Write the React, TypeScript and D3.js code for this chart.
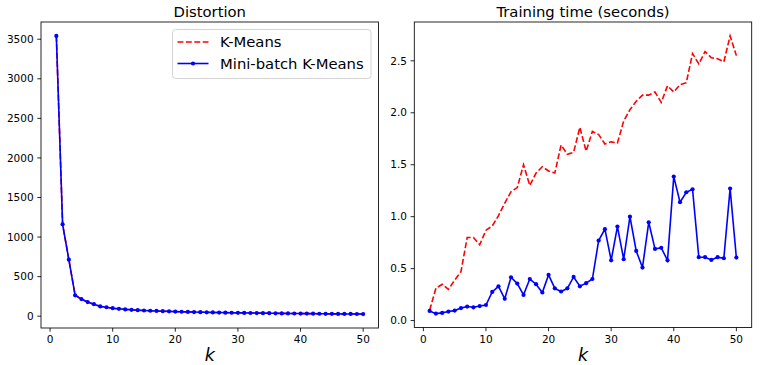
import React from "react";
import * as d3 from "d3";

// k values 1..50
const ks = d3.range(1, 51);

// inertia (distortion)
const kmeansInertia = [
  3542, 1161, 714, 264, 215, 177, 151, 123, 112, 100, 92, 85, 80, 75.5, 71.5, 68.5, 65.5, 62.5,
  60.5, 57.5, 55.5, 53.5, 51.5, 50, 48.5, 47, 45.5, 44.5, 43, 42, 41, 40, 39, 38, 37, 36, 35,
  34.3, 33.5, 32.7, 32, 31.3, 30.5, 29.9, 29.3, 28.7, 28.1, 27.5, 27, 26.5,
];
const minibatchInertia = [
  3542, 1161, 714, 264, 216, 178, 152, 124, 113, 101, 93, 86, 81, 76, 72, 69, 66, 63, 61, 58,
  56, 54, 52, 50.5, 49, 47.5, 46, 45, 43.5, 42.5, 41.5, 40.5, 39.5, 38.5, 37.5, 36.5, 35.5,
  34.8, 34, 33.2, 32.5, 31.8, 31, 30.4, 29.8, 29.2, 28.6, 28, 27.5, 27,
];

// training time (seconds)
const kmeansTimes = [
  0.1, 0.31, 0.35, 0.3, 0.39, 0.47, 0.8, 0.8, 0.73, 0.87, 0.91, 1.01, 1.13, 1.24, 1.28, 1.5,
  1.3, 1.42, 1.48, 1.44, 1.42, 1.69, 1.6, 1.62, 1.86, 1.63, 1.82, 1.79, 1.7, 1.72, 1.71, 1.92,
  2.03, 2.11, 2.17, 2.17, 2.2, 2.1, 2.26, 2.2, 2.27, 2.29, 2.57, 2.47, 2.59, 2.53, 2.52, 2.49,
  2.74, 2.55,
];
const minibatchTimes = [
  0.093, 0.067, 0.074, 0.087, 0.096, 0.12, 0.135, 0.128, 0.14, 0.15, 0.276, 0.33, 0.21, 0.417,
  0.356, 0.247, 0.4, 0.35, 0.27, 0.44, 0.31, 0.28, 0.31, 0.42, 0.33, 0.36, 0.4, 0.77, 0.88,
  0.58, 0.905, 0.59, 1.0, 0.67, 0.51, 0.946, 0.69, 0.7, 0.58, 1.386, 1.14, 1.235, 1.264, 0.61,
  0.61, 0.584, 0.61, 0.6, 1.27, 0.606,
];

const kTicks = [0, 10, 20, 30, 40, 50];
const inertiaTicks = [0, 500, 1000, 1500, 2000, 2500, 3000, 3500];
const timeTicks = [0, 0.5, 1.0, 1.5, 2.0, 2.5];

const seriesNames = ["K-Means", "Mini-batch K-Means"];

const FONT = "DejaVu Sans, sans-serif";
const RED = "#ff0000";
const BLUE = "#0000ff";

// matplotlib-like 5% margins
const padExtent = (vals: number[]) => {
  const [lo, hi] = d3.extent(vals) as [number, number];
  const m = (hi - lo) * 0.05;
  return [lo - m, hi + m];
};

interface PanelProps {
  box: { x0: number; x1: number; y0: number; y1: number };
  title: string;
  kmeans: number[];
  minibatch: number[];
  yTicks: number[];
  yFmt: (v: number) => string;
  legend?: boolean;
}

const Panel: React.FC<PanelProps> = ({ box, title, kmeans, minibatch, yTicks, yFmt, legend }) => {
  const x = d3.scaleLinear().domain(padExtent(ks)).range([box.x0, box.x1]);
  const y = d3
    .scaleLinear()
    .domain(padExtent([...kmeans, ...minibatch]))
    .range([box.y1, box.y0]);

  const line = d3
    .line<number>()
    .x((_, i) => x(ks[i]))
    .y((d) => y(d));

  const cx = (box.x0 + box.x1) / 2;

  return (
    <g>
      <text x={cx} y={17} textAnchor="middle" fontSize={14.8} fontFamily={FONT} fill="#000">
        {title}
      </text>

      <path d={line(kmeans)!} fill="none" stroke={RED} strokeWidth={1.6} strokeDasharray="5.9,2.5" />
      <path d={line(minibatch)!} fill="none" stroke={BLUE} strokeWidth={1.6} />
      {minibatch.map((v, i) => (
        <circle key={i} cx={x(ks[i])} cy={y(v)} r={2.1} fill={BLUE} />
      ))}

      <rect
        x={box.x0}
        y={box.y0}
        width={box.x1 - box.x0}
        height={box.y1 - box.y0}
        fill="none"
        stroke="#000"
        strokeWidth={0.85}
      />

      {kTicks.map((t) => (
        <g key={t} transform={`translate(${x(t)},${box.y1})`}>
          <line y2={3.7} stroke="#000" strokeWidth={0.85} />
          <text y={15} textAnchor="middle" fontSize={10.5} fontFamily={FONT} fill="#000">
            {t}
          </text>
        </g>
      ))}
      {yTicks.map((t) => (
        <g key={t} transform={`translate(${box.x0},${y(t)})`}>
          <line x2={-3.7} stroke="#000" strokeWidth={0.85} />
          <text x={-7.4} dy="0.35em" textAnchor="end" fontSize={10.5} fontFamily={FONT} fill="#000">
            {yFmt(t)}
          </text>
        </g>
      ))}

      <text
        x={cx}
        y={361}
        textAnchor="middle"
        fontSize={17.5}
        fontStyle="italic"
        fontFamily={FONT}
        fill="#000"
      >
        k
      </text>

      {legend && (
        <g>
          <rect
            x={172.5}
            y={29.5}
            width={198.5}
            height={49}
            rx={3}
            fill="#fff"
            fillOpacity={0.8}
            stroke="#cccccc"
            strokeWidth={0.85}
          />
          <line x1={177.5} x2={208.5} y1={42} y2={42} stroke={RED} strokeWidth={1.6} strokeDasharray="5.9,2.5" />
          <text x={220} y={42} dy="0.35em" fontSize={14.8} fontFamily={FONT} fill="#000">
            {seriesNames[0]}
          </text>
          <line x1={177.5} x2={208.5} y1={63.5} y2={63.5} stroke={BLUE} strokeWidth={1.6} />
          <circle cx={193} cy={63.5} r={2.1} fill={BLUE} />
          <text x={220} y={63.5} dy="0.35em" fontSize={14.8} fontFamily={FONT} fill="#000">
            {seriesNames[1]}
          </text>
        </g>
      )}
    </g>
  );
};

export default function App() {
  return (
    <svg
      width={760}
      height={365}
      style={{ position: "absolute", left: 0, top: 0, background: "#fff" }}
    >
      <Panel
        box={{ x0: 41, x1: 378.5, y0: 22, y1: 328 }}
        title="Distortion"
        kmeans={kmeansInertia}
        minibatch={minibatchInertia}
        yTicks={inertiaTicks}
        yFmt={(v) => String(v)}
        legend
      />
      <Panel
        box={{ x0: 414.3, x1: 751.7, y0: 22, y1: 327.5 }}
        title="Training time (seconds)"
        kmeans={kmeansTimes}
        minibatch={minibatchTimes}
        yTicks={timeTicks}
        yFmt={d3.format(".1f")}
      />
    </svg>
  );
}
